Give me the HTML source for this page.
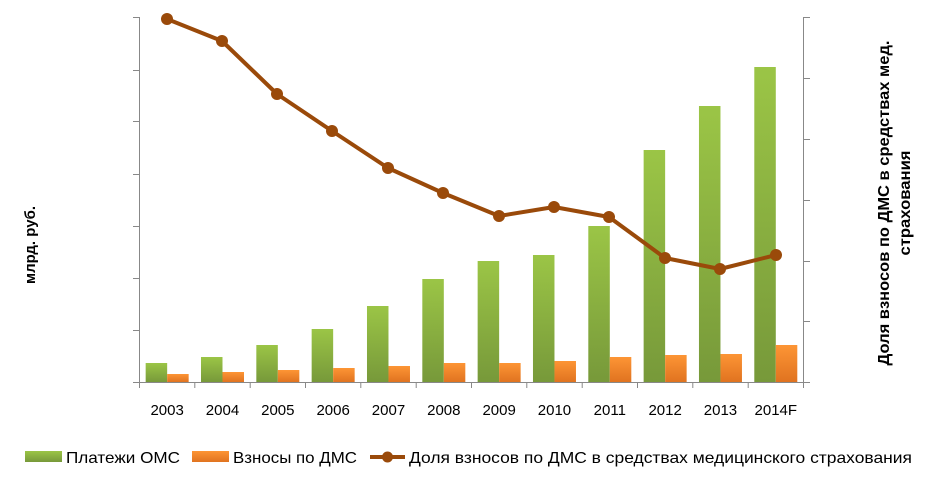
<!DOCTYPE html>
<html><head><meta charset="utf-8"><style>
body{margin:0;background:#fff;}
svg text{font-family:"Liberation Sans",sans-serif;fill:#000;}
</style></head><body>
<svg width="925" height="478" viewBox="0 0 925 478" xmlns="http://www.w3.org/2000/svg">
<defs>
<linearGradient id="g" x1="0" y1="0" x2="0" y2="1"><stop offset="0" stop-color="#9bc546"/><stop offset="1" stop-color="#77993a"/></linearGradient>
<linearGradient id="o" x1="0" y1="0" x2="0" y2="1"><stop offset="0" stop-color="#fd9535"/><stop offset="1" stop-color="#e07320"/></linearGradient>
</defs>
<g stroke="#888" stroke-width="1">
<line x1="139.5" y1="17" x2="139.5" y2="382"/>
<line x1="803.5" y1="17" x2="803.5" y2="382"/>
<line x1="133" y1="382.5" x2="810" y2="382.5"/>
<line x1="133" y1="17.5" x2="139" y2="17.5"/><line x1="133" y1="70.5" x2="139" y2="70.5"/><line x1="133" y1="121.5" x2="139" y2="121.5"/><line x1="133" y1="174.5" x2="139" y2="174.5"/><line x1="133" y1="226.5" x2="139" y2="226.5"/><line x1="133" y1="278.5" x2="139" y2="278.5"/><line x1="133" y1="330.5" x2="139" y2="330.5"/>
<line x1="804" y1="17.5" x2="810" y2="17.5"/><line x1="804" y1="78.5" x2="810" y2="78.5"/><line x1="804" y1="139.5" x2="810" y2="139.5"/><line x1="804" y1="200.5" x2="810" y2="200.5"/><line x1="804" y1="261.5" x2="810" y2="261.5"/><line x1="804" y1="321.5" x2="810" y2="321.5"/>
<line x1="139.5" y1="382" x2="139.5" y2="388"/><line x1="194.8" y1="382" x2="194.8" y2="388"/><line x1="250.2" y1="382" x2="250.2" y2="388"/><line x1="305.5" y1="382" x2="305.5" y2="388"/><line x1="360.8" y1="382" x2="360.8" y2="388"/><line x1="416.2" y1="382" x2="416.2" y2="388"/><line x1="471.5" y1="382" x2="471.5" y2="388"/><line x1="526.8" y1="382" x2="526.8" y2="388"/><line x1="582.2" y1="382" x2="582.2" y2="388"/><line x1="637.5" y1="382" x2="637.5" y2="388"/><line x1="692.8" y1="382" x2="692.8" y2="388"/><line x1="748.2" y1="382" x2="748.2" y2="388"/><line x1="803.5" y1="382" x2="803.5" y2="388"/>
</g>
<g id="bars"></g>
<polyline fill="none" stroke="#9a4a0a" stroke-width="4" stroke-linejoin="round" points="167,19 222,41 277,94 332,131 388,168 443,193 499,216 554,207 609,217 665,258 720,269 776,255"/>
<g fill="#9a4a0a">
<circle cx="167" cy="19" r="6"/><circle cx="222" cy="41" r="6"/><circle cx="277" cy="94" r="6"/><circle cx="332" cy="131" r="6"/><circle cx="388" cy="168" r="6"/><circle cx="443" cy="193" r="6"/><circle cx="499" cy="216" r="6"/><circle cx="554" cy="207" r="6"/><circle cx="609" cy="217" r="6"/><circle cx="665" cy="258" r="6"/><circle cx="720" cy="269" r="6"/><circle cx="776" cy="255" r="6"/>
</g>
<g font-size="15" text-anchor="middle" id="xl"></g>
<text x="0" y="0" font-size="15" font-weight="bold" text-anchor="middle" transform="translate(35,245) rotate(-90)">млрд. руб.</text>
<text font-size="16" font-weight="bold" text-anchor="middle" textLength="325" lengthAdjust="spacingAndGlyphs" transform="translate(889,203) rotate(-90)">Доля взносов по ДМС в средствах мед.</text>
<text font-size="16" font-weight="bold" text-anchor="middle" textLength="105" lengthAdjust="spacingAndGlyphs" transform="translate(910,203) rotate(-90)">страхования</text>
<rect x="25" y="451" width="37" height="11" fill="url(#g)"/>
<text x="66" y="463" font-size="16" textLength="114" lengthAdjust="spacingAndGlyphs">Платежи ОМС</text>
<rect x="192" y="451" width="37" height="11" fill="url(#o)"/>
<text x="233" y="463" font-size="16" textLength="124" lengthAdjust="spacingAndGlyphs">Взносы по ДМС</text>
<line x1="370" y1="457" x2="405" y2="457" stroke="#9a4a0a" stroke-width="4"/>
<circle cx="387.5" cy="457" r="5.5" fill="#9a4a0a"/>
<text x="409" y="463" font-size="16" textLength="503" lengthAdjust="spacingAndGlyphs">Доля взносов по ДМС в средствах медицинского страхования</text>
</svg>
<script>
var g=[363,357,345,329,306,279,261,255,226,150,106,67],o=[374,372,370,368,366,363,363,361,357,355,354,345];
var yrs=["2003","2004","2005","2006","2007","2008","2009","2010","2011","2012","2013","2014F"];
var ns="http://www.w3.org/2000/svg",b=document.getElementById("bars"),xl=document.getElementById("xl");
for(var i=0;i<12;i++){var c=139.5+55.33*(i+0.5);
var r=document.createElementNS(ns,"rect");r.setAttribute("x",c-21.5);r.setAttribute("y",g[i]);r.setAttribute("width",21.5);r.setAttribute("height",382-g[i]);r.setAttribute("fill","url(#g)");b.appendChild(r);
r=document.createElementNS(ns,"rect");r.setAttribute("x",c);r.setAttribute("y",o[i]);r.setAttribute("width",21.5);r.setAttribute("height",382-o[i]);r.setAttribute("fill","url(#o)");b.appendChild(r);
var t=document.createElementNS(ns,"text");t.setAttribute("x",c);t.setAttribute("y",415);t.textContent=yrs[i];xl.appendChild(t);}
</script>
</body></html>
